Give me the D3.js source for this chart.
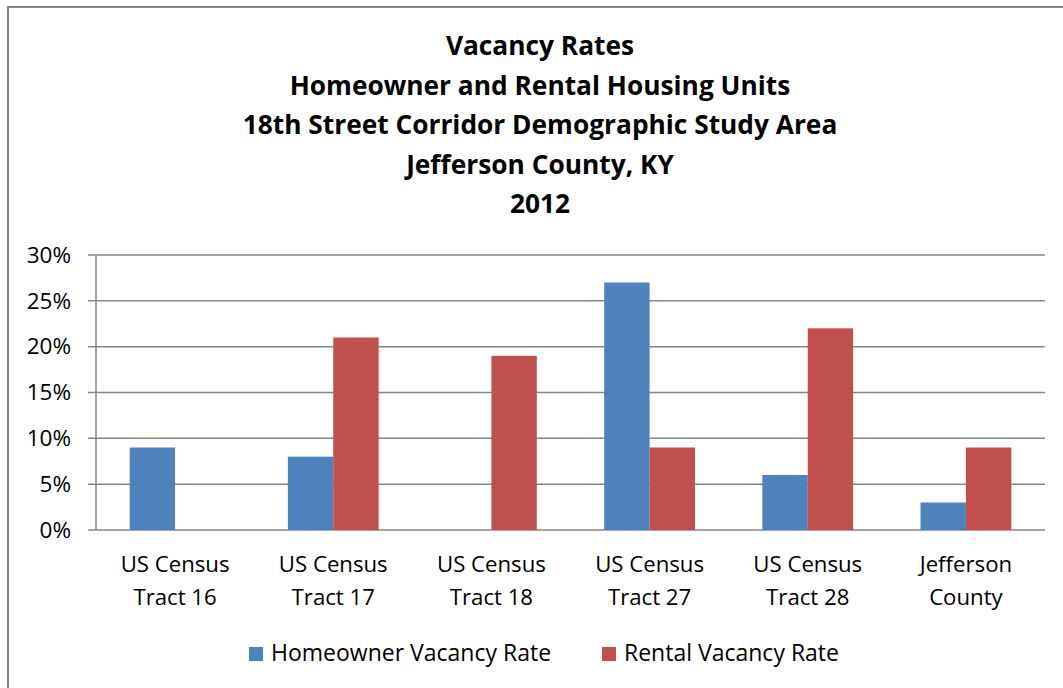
<!DOCTYPE html>
<html><head><meta charset="utf-8">
<script src="https://cdn.jsdelivr.net/npm/d3@7"></script>
<style>body{margin:0;background:#fff}svg{display:block}</style>
</head><body>
<script>
const categories = [["US Census","Tract 16"],["US Census","Tract 17"],["US Census","Tract 18"],["US Census","Tract 27"],["US Census","Tract 28"],["Jefferson","County"]];
const homeowner = [9, 8, 0, 27, 6, 3];
const rental = [0, 21, 19, 9, 22, 9];
const seriesNames = ["Homeowner Vacancy Rate","Rental Vacancy Rate"];
const colors = ["#4F81BD","#C0504D"];
const yTicks = [0,5,10,15,20,25,30];
const titleLines = ["Vacancy Rates","Homeowner and Rental Housing Units","18th Street Corridor Demographic Study Area","Jefferson County, KY","2012"];

const W=1063,H=688, font="'Open Sans', Lato, sans-serif";
const svg=d3.select("body").append("svg").attr("width",W).attr("height",H);
svg.append("rect").attr("x",8).attr("y",7).attr("width",1100).attr("height",800).attr("fill","#fff").attr("stroke","#868686").attr("stroke-width",2);

const pL=96,pR=1045,pT=255,pB=530;
const x=d3.scaleBand().domain(d3.range(categories.length)).range([pL,pR]);
const y=d3.scaleLinear().domain([0,30]).range([pB,pT]);
const bw=x.bandwidth()*0.287;

const g=svg.append("g");
g.selectAll("line.grid").data(yTicks).join("line").attr("x1",pL-8).attr("x2",pR).attr("y1",d=>y(d)).attr("y2",d=>y(d)).attr("stroke","#868686").attr("stroke-width",1.5);
g.append("line").attr("x1",pL).attr("x2",pL).attr("y1",pT).attr("y2",pB).attr("stroke","#868686").attr("stroke-width",1.5);

const axis=d3.axisLeft(y).tickValues(yTicks).tickFormat(d=>d+"%").tickSize(0).tickPadding(25);
const ag=svg.append("g").attr("transform",`translate(${pL},0)`).call(axis);
ag.select(".domain").remove();
ag.selectAll("text").attr("font-family",font).attr("font-size",22.5).attr("fill","#000");

[homeowner,rental].forEach((s,si)=>{
  svg.selectAll(null).data(s).join("rect")
    .attr("x",(d,i)=>x(i)+x.bandwidth()/2+(si-1)*bw)
    .attr("y",d=>y(d)).attr("width",bw).attr("height",d=>pB-y(d))
    .attr("fill",colors[si]);
});

categories.forEach((c,i)=>{
  const t=svg.append("text").attr("x",x(i)+x.bandwidth()/2).attr("text-anchor","middle").attr("font-family",font).attr("font-size",22.2);
  t.append("tspan").attr("x",x(i)+x.bandwidth()/2).attr("y",572).text(c[0]);
  t.append("tspan").attr("x",x(i)+x.bandwidth()/2).attr("y",605).text(c[1]);
});

titleLines.forEach((l,i)=>{
  svg.append("text").attr("x",540).attr("y",55+i*39.5).attr("text-anchor","middle").attr("font-family",font).attr("font-weight","bold").attr("font-size",26.3).text(l);
});

const legX=[249,602];
seriesNames.forEach((n,i)=>{
  svg.append("rect").attr("x",legX[i]).attr("y",647).attr("width",14).attr("height",14).attr("fill",colors[i]);
  svg.append("text").attr("x",legX[i]+22).attr("y",661).attr("font-family",font).attr("font-size",23).text(n);
});
</script>
</body></html>
